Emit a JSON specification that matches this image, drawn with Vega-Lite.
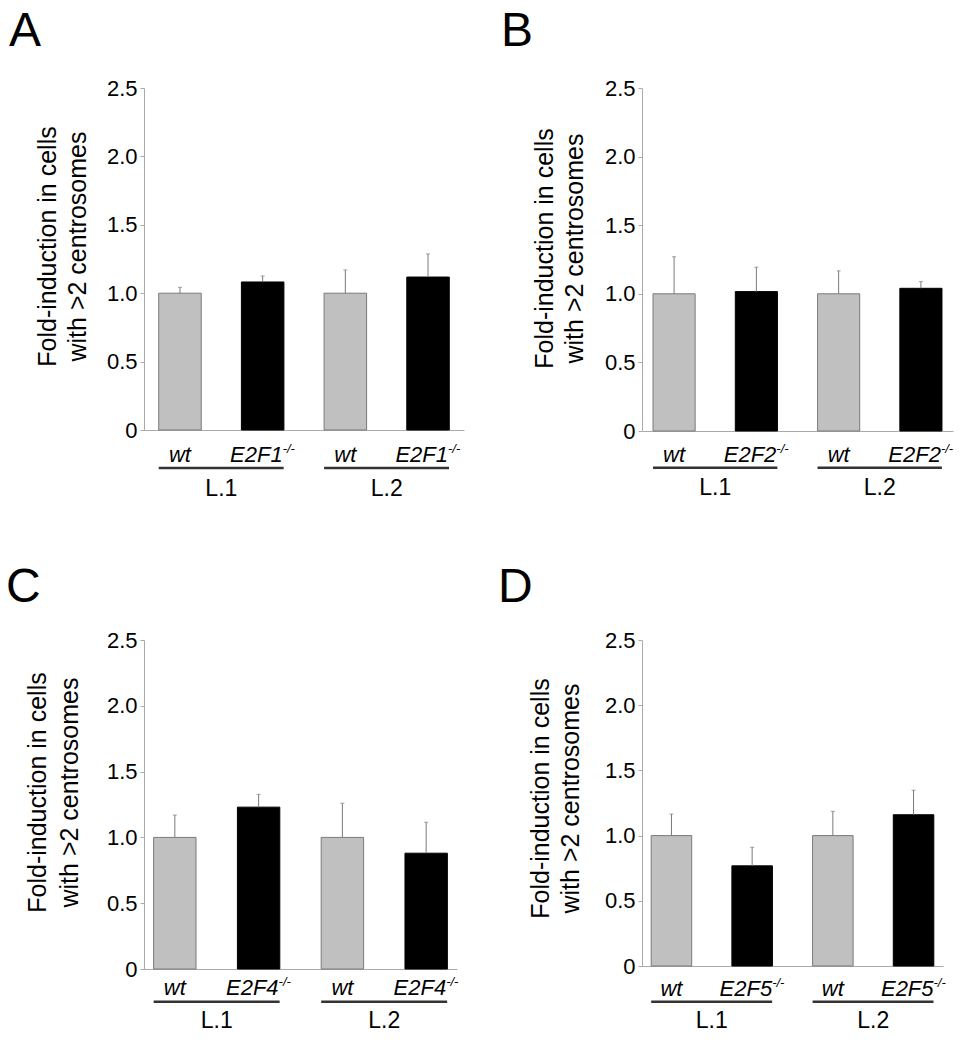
{
  "$schema": "https://vega.github.io/schema/vega-lite/v6.json",
  "background": "white",
  "padding": {"left": 6, "top": 8, "right": 4, "bottom": 4},
  "config": {"view": {"stroke": null}, "font": "Liberation Sans", "text": {"font": "Liberation Sans", "color": "black"}},
  "columns": 2,
  "spacing": {"row": 209, "column": 178},
  "bounds": "flush",
  "concat": [
    {
      "width": 320, "height": 342,
      "title": {"text": "A", "anchor": "start", "frame": "group", "fontSize": 48, "fontWeight": "normal", "font": "Liberation Sans", "color": "black", "dx": -135, "offset": -17, "baseline": "alphabetic"},
      "data": {"values": [
        {"cat": "L1 wt", "geno": "wt", "label": "wt", "value": 1.0, "err": 1.043},
        {"cat": "L1 KO", "geno": "KO", "label": "E2F1", "value": 1.082, "err": 1.126},
        {"cat": "L2 wt", "geno": "wt", "label": "wt", "value": 1.0, "err": 1.17},
        {"cat": "L2 KO", "geno": "KO", "label": "E2F1", "value": 1.118, "err": 1.287}
      ]},
      "layer": [
        {"mark": {"type": "bar", "strokeWidth": 1},
         "encoding": {
           "x": {"field": "cat", "type": "nominal", "scale": {"domain": ["L1 wt", "L1 KO", "L2 wt", "L2 KO"], "paddingInner": 0.486, "paddingOuter": 0.178}, "axis": {"labels": false, "ticks": false, "title": null, "domainColor": "#aaaaaa", "domainWidth": 1}},
           "y": {"field": "value", "type": "quantitative", "scale": {"domain": [0, 2.5], "nice": false}, "axis": {"values": [0, 0.5, 1, 1.5, 2, 2.5], "labelExpr": "datum.value == 0 ? '0' : format(datum.value, '.1f')", "grid": false, "domainColor": "#aaaaaa", "tickColor": "#aaaaaa", "tickSize": 4, "labelPadding": 3, "labelFontSize": 22, "labelColor": "black", "labelFont": "Liberation Sans", "title": ["Fold-induction in cells", "with >2 centrosomes"], "titleFont": "Liberation Sans", "titleFontSize": 25, "titleFontWeight": "normal", "titleColor": "black", "titleLineHeight": 30, "titleX": -89, "titleY": 158, "titleBaseline": "alphabetic", "titleAlign": "center", "titleAngle": 270}},
           "fill": {"field": "geno", "type": "nominal", "scale": {"domain": ["wt", "KO"], "range": ["#c0c0c0", "#000000"]}, "legend": null},
           "stroke": {"field": "geno", "type": "nominal", "scale": {"domain": ["wt", "KO"], "range": ["#7a7a7a", "#000000"]}, "legend": null}
         }},
        {"mark": {"type": "rule", "color": "#7a7a7a", "strokeWidth": 1},
         "encoding": {"x": {"field": "cat", "type": "nominal"}, "y": {"field": "value", "type": "quantitative"}, "y2": {"field": "err"}}},
        {"mark": {"type": "tick", "color": "#7a7a7a", "size": 4, "thickness": 1},
         "encoding": {"x": {"field": "cat", "type": "nominal"}, "y": {"field": "err", "type": "quantitative"}}},
        {"transform": [{"filter": "datum.geno == 'wt'"}],
         "mark": {"type": "text", "fontSize": 22, "fontStyle": "italic", "align": "center", "baseline": "alphabetic"},
         "encoding": {"x": {"field": "cat", "type": "nominal"}, "y": {"datum": -0.234}, "text": {"field": "label"}}},
        {"transform": [{"filter": "datum.geno == 'KO'"}],
         "mark": {"type": "text", "fontSize": 22, "fontStyle": "italic", "align": "right", "baseline": "alphabetic", "dx": 20},
         "encoding": {"x": {"field": "cat", "type": "nominal"}, "y": {"datum": -0.234}, "text": {"field": "label"}}},
        {"transform": [{"filter": "datum.geno == 'KO'"}],
         "mark": {"type": "text", "fontSize": 13, "fontStyle": "italic", "align": "left", "baseline": "alphabetic", "dx": 20, "dy": -9},
         "encoding": {"x": {"field": "cat", "type": "nominal"}, "y": {"datum": -0.234}, "text": {"value": "-/-"}}},
        {"data": {"values": [{"line": "L.1", "c1": "L1 wt", "c2": "L1 KO"}, {"line": "L.2", "c1": "L2 wt", "c2": "L2 KO"}]},
         "layer": [
           {"mark": {"type": "rule", "color": "#333333", "strokeWidth": 2.5, "x2Offset": 21},
            "encoding": {"x": {"field": "c1", "type": "nominal", "bandPosition": 0}, "x2": {"field": "c2"}, "y": {"datum": -0.278}}},
           {"mark": {"type": "text", "fontSize": 23, "align": "center", "baseline": "alphabetic"},
            "encoding": {"x": {"field": "c1", "type": "nominal", "bandPosition": 1.473}, "y": {"datum": -0.482}, "text": {"field": "line"}}}
         ]}
      ]
    },
    {
      "width": 311, "height": 343,
      "title": {"text": "B", "anchor": "start", "frame": "group", "fontSize": 48, "fontWeight": "normal", "font": "Liberation Sans", "color": "black", "dx": -141, "offset": -17, "baseline": "alphabetic"},
      "data": {"values": [
        {"cat": "L1 wt", "geno": "wt", "label": "wt", "value": 1.0, "err": 1.27},
        {"cat": "L1 KO", "geno": "KO", "label": "E2F2", "value": 1.016, "err": 1.194},
        {"cat": "L2 wt", "geno": "wt", "label": "wt", "value": 1.0, "err": 1.167},
        {"cat": "L2 KO", "geno": "KO", "label": "E2F2", "value": 1.04, "err": 1.089}
      ]},
      "layer": [
        {"mark": {"type": "bar", "strokeWidth": 1},
         "encoding": {
           "x": {"field": "cat", "type": "nominal", "scale": {"domain": ["L1 wt", "L1 KO", "L2 wt", "L2 KO"], "paddingInner": 0.488, "paddingOuter": 0.134}, "axis": {"labels": false, "ticks": false, "title": null, "domainColor": "#aaaaaa", "domainWidth": 1}},
           "y": {"field": "value", "type": "quantitative", "scale": {"domain": [0, 2.5], "nice": false}, "axis": {"values": [0, 0.5, 1, 1.5, 2, 2.5], "labelExpr": "datum.value == 0 ? '0' : format(datum.value, '.1f')", "grid": false, "domainColor": "#aaaaaa", "tickColor": "#aaaaaa", "tickSize": 4, "labelPadding": 3, "labelFontSize": 22, "labelColor": "black", "labelFont": "Liberation Sans", "title": ["Fold-induction in cells", "with >2 centrosomes"], "titleFont": "Liberation Sans", "titleFontSize": 25, "titleFontWeight": "normal", "titleColor": "black", "titleLineHeight": 30, "titleX": -90, "titleY": 160, "titleBaseline": "alphabetic", "titleAlign": "center", "titleAngle": 270}},
           "fill": {"field": "geno", "type": "nominal", "scale": {"domain": ["wt", "KO"], "range": ["#c0c0c0", "#000000"]}, "legend": null},
           "stroke": {"field": "geno", "type": "nominal", "scale": {"domain": ["wt", "KO"], "range": ["#7a7a7a", "#000000"]}, "legend": null}
         }},
        {"mark": {"type": "rule", "color": "#7a7a7a", "strokeWidth": 1},
         "encoding": {"x": {"field": "cat", "type": "nominal"}, "y": {"field": "value", "type": "quantitative"}, "y2": {"field": "err"}}},
        {"mark": {"type": "tick", "color": "#7a7a7a", "size": 4, "thickness": 1},
         "encoding": {"x": {"field": "cat", "type": "nominal"}, "y": {"field": "err", "type": "quantitative"}}},
        {"transform": [{"filter": "datum.geno == 'wt'"}],
         "mark": {"type": "text", "fontSize": 22, "fontStyle": "italic", "align": "center", "baseline": "alphabetic"},
         "encoding": {"x": {"field": "cat", "type": "nominal"}, "y": {"datum": -0.224}, "text": {"field": "label"}}},
        {"transform": [{"filter": "datum.geno == 'KO'"}],
         "mark": {"type": "text", "fontSize": 22, "fontStyle": "italic", "align": "right", "baseline": "alphabetic", "dx": 20},
         "encoding": {"x": {"field": "cat", "type": "nominal"}, "y": {"datum": -0.224}, "text": {"field": "label"}}},
        {"transform": [{"filter": "datum.geno == 'KO'"}],
         "mark": {"type": "text", "fontSize": 13, "fontStyle": "italic", "align": "left", "baseline": "alphabetic", "dx": 20, "dy": -9},
         "encoding": {"x": {"field": "cat", "type": "nominal"}, "y": {"datum": -0.224}, "text": {"value": "-/-"}}},
        {"data": {"values": [{"line": "L.1", "c1": "L1 wt", "c2": "L1 KO"}, {"line": "L.2", "c1": "L2 wt", "c2": "L2 KO"}]},
         "layer": [
           {"mark": {"type": "rule", "color": "#333333", "strokeWidth": 2.5, "x2Offset": 21},
            "encoding": {"x": {"field": "c1", "type": "nominal", "bandPosition": 0}, "x2": {"field": "c2"}, "y": {"datum": -0.267}}},
           {"mark": {"type": "text", "fontSize": 23, "align": "center", "baseline": "alphabetic"},
            "encoding": {"x": {"field": "c1", "type": "nominal", "bandPosition": 1.477}, "y": {"datum": -0.466}, "text": {"field": "line"}}}
         ]}
      ]
    },
    {
      "width": 313, "height": 329,
      "title": {"text": "C", "anchor": "start", "frame": "group", "fontSize": 48, "fontWeight": "normal", "font": "Liberation Sans", "color": "black", "dx": -138, "offset": -21, "baseline": "alphabetic"},
      "data": {"values": [
        {"cat": "L1 wt", "geno": "wt", "label": "wt", "value": 1.0, "err": 1.17},
        {"cat": "L1 KO", "geno": "KO", "label": "E2F4", "value": 1.23, "err": 1.327},
        {"cat": "L2 wt", "geno": "wt", "label": "wt", "value": 1.0, "err": 1.26},
        {"cat": "L2 KO", "geno": "KO", "label": "E2F4", "value": 0.88, "err": 1.115}
      ]},
      "layer": [
        {"mark": {"type": "bar", "strokeWidth": 1},
         "encoding": {
           "x": {"field": "cat", "type": "nominal", "scale": {"domain": ["L1 wt", "L1 KO", "L2 wt", "L2 KO"], "paddingInner": 0.494, "paddingOuter": 0.115}, "axis": {"labels": false, "ticks": false, "title": null, "domainColor": "#aaaaaa", "domainWidth": 1}},
           "y": {"field": "value", "type": "quantitative", "scale": {"domain": [0, 2.5], "nice": false}, "axis": {"values": [0, 0.5, 1, 1.5, 2, 2.5], "labelExpr": "datum.value == 0 ? '0' : format(datum.value, '.1f')", "grid": false, "domainColor": "#aaaaaa", "tickColor": "#aaaaaa", "tickSize": 4, "labelPadding": 3, "labelFontSize": 22, "labelColor": "black", "labelFont": "Liberation Sans", "title": ["Fold-induction in cells", "with >2 centrosomes"], "titleFont": "Liberation Sans", "titleFontSize": 25, "titleFontWeight": "normal", "titleColor": "black", "titleLineHeight": 32, "titleX": -99, "titleY": 152, "titleBaseline": "alphabetic", "titleAlign": "center", "titleAngle": 270}},
           "fill": {"field": "geno", "type": "nominal", "scale": {"domain": ["wt", "KO"], "range": ["#c0c0c0", "#000000"]}, "legend": null},
           "stroke": {"field": "geno", "type": "nominal", "scale": {"domain": ["wt", "KO"], "range": ["#7a7a7a", "#000000"]}, "legend": null}
         }},
        {"mark": {"type": "rule", "color": "#7a7a7a", "strokeWidth": 1},
         "encoding": {"x": {"field": "cat", "type": "nominal"}, "y": {"field": "value", "type": "quantitative"}, "y2": {"field": "err"}}},
        {"mark": {"type": "tick", "color": "#7a7a7a", "size": 4, "thickness": 1},
         "encoding": {"x": {"field": "cat", "type": "nominal"}, "y": {"field": "err", "type": "quantitative"}}},
        {"transform": [{"filter": "datum.geno == 'wt'"}],
         "mark": {"type": "text", "fontSize": 22, "fontStyle": "italic", "align": "center", "baseline": "alphabetic"},
         "encoding": {"x": {"field": "cat", "type": "nominal"}, "y": {"datum": -0.198}, "text": {"field": "label"}}},
        {"transform": [{"filter": "datum.geno == 'KO'"}],
         "mark": {"type": "text", "fontSize": 22, "fontStyle": "italic", "align": "right", "baseline": "alphabetic", "dx": 20},
         "encoding": {"x": {"field": "cat", "type": "nominal"}, "y": {"datum": -0.198}, "text": {"field": "label"}}},
        {"transform": [{"filter": "datum.geno == 'KO'"}],
         "mark": {"type": "text", "fontSize": 13, "fontStyle": "italic", "align": "left", "baseline": "alphabetic", "dx": 20, "dy": -9},
         "encoding": {"x": {"field": "cat", "type": "nominal"}, "y": {"datum": -0.198}, "text": {"value": "-/-"}}},
        {"data": {"values": [{"line": "L.1", "c1": "L1 wt", "c2": "L1 KO"}, {"line": "L.2", "c1": "L2 wt", "c2": "L2 KO"}]},
         "layer": [
           {"mark": {"type": "rule", "color": "#333333", "strokeWidth": 2.5, "x2Offset": 21},
            "encoding": {"x": {"field": "c1", "type": "nominal", "bandPosition": 0}, "x2": {"field": "c2"}, "y": {"datum": -0.248}}},
           {"mark": {"type": "text", "fontSize": 23, "align": "center", "baseline": "alphabetic"},
            "encoding": {"x": {"field": "c1", "type": "nominal", "bandPosition": 1.488}, "y": {"datum": -0.448}, "text": {"field": "line"}}}
         ]}
      ]
    },
    {
      "width": 301, "height": 326,
      "title": {"text": "D", "anchor": "start", "frame": "group", "fontSize": 48, "fontWeight": "normal", "font": "Liberation Sans", "color": "black", "dx": -144, "offset": -21, "baseline": "alphabetic"},
      "data": {"values": [
        {"cat": "L1 wt", "geno": "wt", "label": "wt", "value": 1.0, "err": 1.165},
        {"cat": "L1 KO", "geno": "KO", "label": "E2F5", "value": 0.768, "err": 0.91},
        {"cat": "L2 wt", "geno": "wt", "label": "wt", "value": 1.0, "err": 1.186},
        {"cat": "L2 KO", "geno": "KO", "label": "E2F5", "value": 1.16, "err": 1.348}
      ]},
      "layer": [
        {"mark": {"type": "bar", "strokeWidth": 1},
         "encoding": {
           "x": {"field": "cat", "type": "nominal", "scale": {"domain": ["L1 wt", "L1 KO", "L2 wt", "L2 KO"], "paddingInner": 0.498, "paddingOuter": 0.114}, "axis": {"labels": false, "ticks": false, "title": null, "domainColor": "#aaaaaa", "domainWidth": 1}},
           "y": {"field": "value", "type": "quantitative", "scale": {"domain": [0, 2.5], "nice": false}, "axis": {"values": [0, 0.5, 1, 1.5, 2, 2.5], "labelExpr": "datum.value == 0 ? '0' : format(datum.value, '.1f')", "grid": false, "domainColor": "#aaaaaa", "tickColor": "#aaaaaa", "tickSize": 4, "labelPadding": 3, "labelFontSize": 22, "labelColor": "black", "labelFont": "Liberation Sans", "title": ["Fold-induction in cells", "with >2 centrosomes"], "titleFont": "Liberation Sans", "titleFontSize": 25, "titleFontWeight": "normal", "titleColor": "black", "titleLineHeight": 30, "titleX": -94, "titleY": 158, "titleBaseline": "alphabetic", "titleAlign": "center", "titleAngle": 270}},
           "fill": {"field": "geno", "type": "nominal", "scale": {"domain": ["wt", "KO"], "range": ["#c0c0c0", "#000000"]}, "legend": null},
           "stroke": {"field": "geno", "type": "nominal", "scale": {"domain": ["wt", "KO"], "range": ["#7a7a7a", "#000000"]}, "legend": null}
         }},
        {"mark": {"type": "rule", "color": "#7a7a7a", "strokeWidth": 1},
         "encoding": {"x": {"field": "cat", "type": "nominal"}, "y": {"field": "value", "type": "quantitative"}, "y2": {"field": "err"}}},
        {"mark": {"type": "tick", "color": "#7a7a7a", "size": 4, "thickness": 1},
         "encoding": {"x": {"field": "cat", "type": "nominal"}, "y": {"field": "err", "type": "quantitative"}}},
        {"transform": [{"filter": "datum.geno == 'wt'"}],
         "mark": {"type": "text", "fontSize": 22, "fontStyle": "italic", "align": "center", "baseline": "alphabetic"},
         "encoding": {"x": {"field": "cat", "type": "nominal"}, "y": {"datum": -0.23}, "text": {"field": "label"}}},
        {"transform": [{"filter": "datum.geno == 'KO'"}],
         "mark": {"type": "text", "fontSize": 22, "fontStyle": "italic", "align": "right", "baseline": "alphabetic", "dx": 20},
         "encoding": {"x": {"field": "cat", "type": "nominal"}, "y": {"datum": -0.23}, "text": {"field": "label"}}},
        {"transform": [{"filter": "datum.geno == 'KO'"}],
         "mark": {"type": "text", "fontSize": 13, "fontStyle": "italic", "align": "left", "baseline": "alphabetic", "dx": 20, "dy": -9},
         "encoding": {"x": {"field": "cat", "type": "nominal"}, "y": {"datum": -0.23}, "text": {"value": "-/-"}}},
        {"data": {"values": [{"line": "L.1", "c1": "L1 wt", "c2": "L1 KO"}, {"line": "L.2", "c1": "L2 wt", "c2": "L2 KO"}]},
         "layer": [
           {"mark": {"type": "rule", "color": "#333333", "strokeWidth": 2.5, "x2Offset": 20},
            "encoding": {"x": {"field": "c1", "type": "nominal", "bandPosition": 0}, "x2": {"field": "c2"}, "y": {"datum": -0.274}}},
           {"mark": {"type": "text", "fontSize": 23, "align": "center", "baseline": "alphabetic"},
            "encoding": {"x": {"field": "c1", "type": "nominal", "bandPosition": 1.496}, "y": {"datum": -0.475}, "text": {"field": "line"}}}
         ]}
      ]
    }
  ]
}
